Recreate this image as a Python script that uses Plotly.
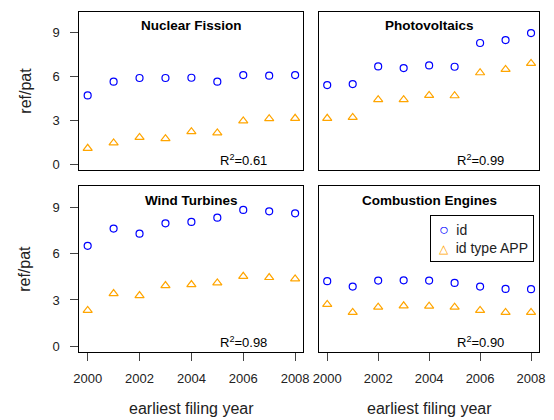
import plotly.graph_objects as go

### ref/pat by earliest filing year, four technologies

years = [2000, 2001, 2002, 2003, 2004, 2005, 2006, 2007, 2008]

panels = ['Nuclear Fission', 'Photovoltaics', 'Wind Turbines', 'Combustion Engines']
r2 = ['0.61', '0.99', '0.98', '0.90']

nuclear_id = [4.70, 5.64, 5.89, 5.89, 5.91, 5.64, 6.09, 6.05, 6.09]
nuclear_app = [1.09, 1.46, 1.84, 1.75, 2.23, 2.14, 2.96, 3.12, 3.14]

pv_id = [5.41, 5.48, 6.68, 6.57, 6.75, 6.66, 8.28, 8.48, 8.96]
pv_app = [3.14, 3.20, 4.41, 4.41, 4.70, 4.68, 6.25, 6.48, 6.89]

wind_id = [6.52, 7.64, 7.31, 7.98, 8.07, 8.35, 8.85, 8.76, 8.63]
wind_app = [2.32, 3.42, 3.29, 3.94, 4.00, 4.11, 4.54, 4.46, 4.37]

comb_id = [4.22, 3.87, 4.26, 4.28, 4.26, 4.11, 3.87, 3.72, 3.70]
comb_app = [2.71, 2.19, 2.53, 2.62, 2.60, 2.53, 2.32, 2.19, 2.19]

series_id = [nuclear_id, pv_id, wind_id, comb_id]
series_app = [nuclear_app, pv_app, wind_app, comb_app]

W, H = 554, 420
# panel boxes in pixels (left, right, top, bottom)
boxes = [(75, 304, 12, 171), (320, 545, 12, 171),
         (75, 304, 187, 354), (320, 545, 187, 354)]

font = 'Liberation Sans, Arial, sans-serif'
fig = go.Figure()

for i in range(4):
    sfx = '' if i == 0 else str(i + 1)
    fig.add_trace(go.Scatter(x=years, y=series_id[i], mode='markers', name='id',
                             xaxis='x' + sfx, yaxis='y' + sfx, showlegend=False,
                             marker=dict(symbol='circle-open', size=7, color='blue',
                                         line=dict(width=1.2, color='blue'))))
    fig.add_trace(go.Scatter(x=years, y=series_app[i], mode='markers', name='id type APP',
                             xaxis='x' + sfx, yaxis='y' + sfx, showlegend=False,
                             marker=dict(symbol='triangle-up-open', size=8, color='orange',
                                         line=dict(width=1.2, color='orange'))))

layout = dict(
    width=W, height=H,
    margin=dict(l=0, r=0, t=0, b=0),
    paper_bgcolor='white', plot_bgcolor='white',
    font=dict(family=font, size=13, color='black'),
    annotations=[],
)

for i, (l, r, t, b) in enumerate(boxes):
    sfx = '' if i == 0 else str(i + 1)
    bottom_row = i >= 2
    left_col = i % 2 == 0
    layout['xaxis' + sfx] = dict(
        domain=[l / W, r / W], anchor='y' + sfx, range=[1999.68, 2008.32],
        showgrid=False, zeroline=False, showline=True, mirror=True,
        linecolor='black', linewidth=1,
        tickvals=[2000, 2002, 2004, 2006, 2008] if bottom_row else [],
        ticks='outside' if bottom_row else '', ticklen=8, tickcolor='#444',
        showticklabels=bottom_row, ticklabelstandoff=6,
        tickfont=dict(size=13, color='#222'),
    )
    layout['yaxis' + sfx] = dict(
        domain=[1 - b / H, 1 - t / H], anchor='x' + sfx, range=[-0.4, 10.4],
        showgrid=False, zeroline=False, showline=True, mirror=True,
        linecolor='black', linewidth=1,
        tickvals=[0, 3, 6, 9] if left_col else [],
        ticks='outside' if left_col else '', ticklen=8, tickcolor='#444',
        showticklabels=left_col, ticklabelstandoff=8,
        tickfont=dict(size=13, color='#222'),
    )
    # panel title
    layout['annotations'].append(dict(
        text='<b>' + panels[i] + '</b>', xref='paper', yref='paper',
        x=(l + r) / 2 / W, y=1 - (t + 14) / H, xanchor='center', yanchor='middle',
        showarrow=False, font=dict(size=13.5, color='black')))
    # R squared
    layout['annotations'].append(dict(
        text='R<sup>2</sup>=' + r2[i], xref='x' + sfx, yref='y' + sfx,
        x=2006, y=0.3, xanchor='center', yanchor='middle',
        showarrow=False, font=dict(size=13, color='black')))
    if left_col:
        layout['annotations'].append(dict(
            text='ref/pat', xref='paper', yref='paper', textangle=-90,
            x=19 / W, y=1 - (t + b) / 2 / H, xanchor='center', yanchor='middle',
            showarrow=False, font=dict(size=16, color='#222')))
    if bottom_row:
        layout['annotations'].append(dict(
            text='earliest filing year', xref='paper', yref='paper',
            x=(l + r) / 2 / W, y=1 - 410 / H, xanchor='center', yanchor='middle',
            showarrow=False, font=dict(size=16, color='#222')))

# legend box of the last panel, as in the original
layout['annotations'].append(dict(
    text='\u00a0<span style="color:blue;font-size:16px">○</span>\u00a0\u00a0id<br>'
         '\u00a0<span style="color:orange;font-size:12px">△</span>\u00a0\u00a0id type APP',
    xref='paper', yref='paper', x=433 / W, y=1 - 216 / H,
    xanchor='left', yanchor='top', align='left', valign='middle',
    width=94, height=37, borderpad=4, bordercolor='black', borderwidth=1,
    bgcolor='white', showarrow=False, font=dict(size=14, color='#222')))

fig.update_layout(layout)
fig.write_html('out.html', config={'displayModeBar': False},
               post_script="document.body.style.margin='0';document.body.style.overflow='hidden';")
